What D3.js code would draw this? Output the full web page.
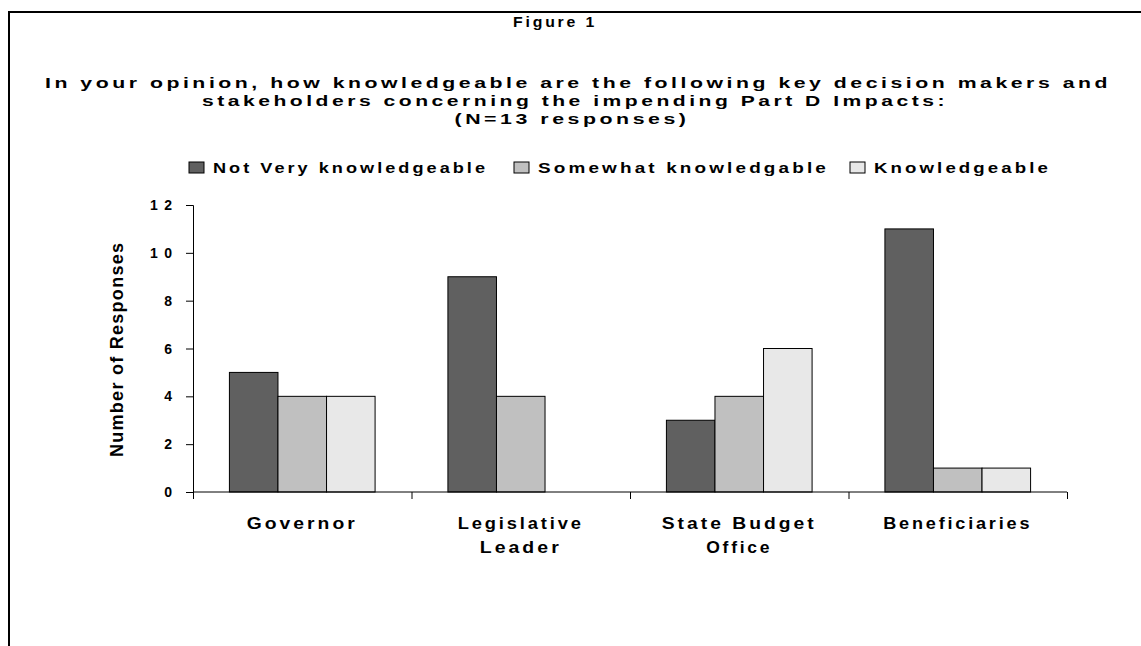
<!DOCTYPE html>
<html>
<head>
<meta charset="utf-8">
<script src="https://cdn.jsdelivr.net/npm/d3@7"></script>
<style>
  body { margin: 0; background: #fff; }
  text { font-family: "Liberation Sans", Arial, sans-serif; font-weight: bold; fill: #000; }
  .wide { letter-spacing: 2.5px; }
</style>
</head>
<body>
<div id="chart"></div>
<script>
// data
var categories = [["Governor"], ["Legislative", "Leader"], ["State Budget", "Office"], ["Beneficiaries"]];
var seriesNames = ["Not Very knowledgeable", "Somewhat knowledgable", "Knowledgeable"];
var notVery = [5, 9, 3, 11];
var somewhat = [4, 4, 4, 1];
var knowledgeable = [4, 0, 6, 1];
var yTicks = [0, 2, 4, 6, 8, 10, 12];
var colors = ["#606060", "#c0c0c0", "#e8e8e8"];

var titleLines = [
  "In your opinion, how knowledgeable are the following key decision makers and",
  "stakeholders concerning the impending Part D Impacts:",
  "(N=13 responses)"
];

var width = 1141, height = 646;
var margin = {top: 205, left: 193, right: 74, bottom: 154};

var svg = d3.select("#chart").append("svg")
    .attr("width", width)
    .attr("height", height);

// stretched, letter-spaced text like the original export
function wideText(sel, w) {
  return sel.attr("class", "wide")
      .attr("textLength", w)
      .attr("lengthAdjust", "spacingAndGlyphs");
}

// frame
svg.append("path")
    .attr("d", "M9," + (height + 5) + "V12H" + (width + 5))
    .attr("fill", "none")
    .attr("stroke", "#000")
    .attr("stroke-width", 2);

// titles
wideText(svg.append("text")
    .attr("x", 555).attr("y", 27)
    .attr("text-anchor", "middle")
    .style("font-size", "14px")
    .text("Figure 1"), 84);

var titleW = [1066, 746, 235];
var titleX = [578, 575, 572];
var titleY = [88, 106, 124];
titleLines.forEach(function(t, i) {
  wideText(svg.append("text")
      .attr("x", titleX[i]).attr("y", titleY[i])
      .attr("text-anchor", "middle")
      .style("font-size", "15px")
      .text(t), titleW[i]);
});

// legend
var legX = [189, 514, 850];
var legW = [275, 291, 177];
var leg = svg.append("g");
seriesNames.forEach(function(s, i) {
  leg.append("rect")
      .attr("x", legX[i]).attr("y", 162)
      .attr("width", 15).attr("height", 11)
      .attr("fill", colors[i])
      .attr("stroke", "#000").attr("stroke-width", 1);
  wideText(leg.append("text")
      .attr("x", legX[i] + 24).attr("y", 173)
      .style("font-size", "15px")
      .text(s), legW[i]);
});

var plotW = width - margin.left - margin.right;
var plotH = height - margin.top - margin.bottom;

var g = svg.append("g")
    .attr("transform", "translate(" + margin.left + "," + margin.top + ")");

var x0 = d3.scaleBand()
    .domain(d3.range(categories.length))
    .range([0, plotW]);

var x1 = d3.scaleBand()
    .domain(d3.range(seriesNames.length))
    .range([0, x0.bandwidth()])
    .paddingOuter(0.75);

var y = d3.scaleLinear()
    .domain([0, 12])
    .range([plotH, 0]);

var values = [notVery, somewhat, knowledgeable];

// bars
categories.forEach(function(c, ci) {
  values.forEach(function(v, si) {
    if (!v[ci]) return;
    g.append("rect")
        .attr("x", x0(ci) + x1(si))
        .attr("y", y(v[ci]))
        .attr("width", x1.bandwidth())
        .attr("height", plotH - y(v[ci]))
        .attr("fill", colors[si])
        .attr("stroke", "#000")
        .attr("stroke-width", 1);
  });
});

// y axis
var yAxis = g.append("g")
    .call(d3.axisLeft(y).tickValues(yTicks).tickSize(7).tickFormat(""));
yAxis.select(".domain").attr("stroke", "#000");
yAxis.selectAll(".tick line").attr("stroke", "#000");

yTicks.forEach(function(t) {
  var lab = g.append("text")
      .attr("x", -21).attr("y", y(t) + 5)
      .attr("text-anchor", "end")
      .style("font-size", "14px")
      .text(t);
  if (String(t).length > 1) lab.attr("textLength", 22).attr("lengthAdjust", "spacing");
});

// x axis
var xAxis = g.append("g")
    .attr("transform", "translate(0," + plotH + ")")
    .call(d3.axisBottom(d3.scaleLinear().domain([0, categories.length]).range([0, plotW]))
      .ticks(categories.length).tickSize(7).tickFormat(""));
xAxis.select(".domain").attr("d", "M0,0H" + plotW).attr("stroke", "#000");
xAxis.selectAll(".tick line").attr("stroke", "#000");

var labW = [[111], [126, 82], [155, 66], [149]];
categories.forEach(function(c, ci) {
  c.forEach(function(line, li) {
    wideText(g.append("text")
        .attr("x", x0(ci) + x0.bandwidth() / 2)
        .attr("y", plotH + 37 + li * 24)
        .attr("text-anchor", "middle")
        .style("font-size", "16px")
        .text(line), labW[ci][li]);
  });
});

// y title
svg.append("text")
    .attr("transform", "translate(123,350) rotate(-90)")
    .attr("text-anchor", "middle")
    .style("font-size", "18px")
    .attr("textLength", 214).attr("lengthAdjust", "spacing")
    .text("Number of Responses");
</script>
</body>
</html>
